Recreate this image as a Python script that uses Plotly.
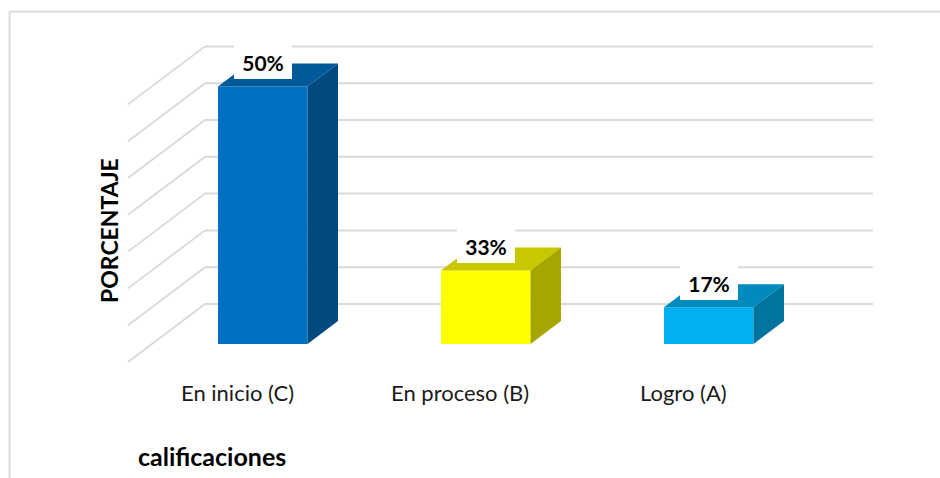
import plotly.graph_objects as go

# Data
categories = ["En inicio (C)", "En proceso (B)", "Logro (A)"]
heights = [7, 2, 1]              # bar heights in gridline units
labels = ["50%", "33%", "17%"]   # printed data labels
grid_levels = [0, 1, 2, 3, 4, 5, 6, 7]
front_colors = ["#0070C0", "#FFFF00", "#00B0F0"]
top_colors = ["#005A9A", "#C8C800", "#008ABD"]
side_colors = ["#004A80", "#A6A600", "#00739F"]

W, H = 940, 478
PX_X = 223.0    # pixels per category
PX_Y = 36.8     # pixels per value unit
X0_PX, Y0_PX = 262.75, 344.0
xr = [-X0_PX / PX_X, (W - X0_PX) / PX_X]
yr = [(Y0_PX - H) / PX_Y, Y0_PX / PX_Y]

def dx(p): return p / PX_X
def dy(p): return p / PX_Y

BAR_W = dx(89.5)
DX, DY = dx(30.5), dy(23)
positions = list(range(len(categories)))
GRID = "#D9D9D9"

fig = go.Figure()

# walls: back-wall gridlines and diagonal side-wall lines
shapes = []
wall_x = dx(205 - X0_PX)
wall_end = dx(873 - X0_PX)
front_x = dx(128 - X0_PX)
back_lift = dy(40)
front_drop = dy(18)
for g in grid_levels:
    yb = g + back_lift
    shapes.append(dict(type="line", layer="below", xref="x", yref="y",
                       x0=wall_x, x1=wall_end, y0=yb, y1=yb,
                       line=dict(color=GRID, width=2)))
    shapes.append(dict(type="line", layer="below", xref="x", yref="y",
                       x0=front_x, x1=wall_x, y0=g - front_drop, y1=yb,
                       line=dict(color=GRID, width=1.75)))
# outer chart frame
fx, fy = 9.5 / W, 1 - 11.5 / H
shapes.append(dict(type="line", layer="below", xref="paper", yref="paper",
                   x0=fx, x1=1, y0=fy, y1=fy, line=dict(color=GRID, width=1.75)))
shapes.append(dict(type="line", layer="below", xref="paper", yref="paper",
                   x0=fx, x1=fx, y0=0, y1=fy, line=dict(color=GRID, width=1.75)))

# front faces
fig.add_trace(go.Bar(x=positions, y=heights, width=BAR_W,
                     marker=dict(color=front_colors, line=dict(width=0)),
                     hoverinfo="skip", showlegend=False))

# top and side faces, derived from the bar values
for p, h, tc, sc in zip(positions, heights, top_colors, side_colors):
    l, r = p - BAR_W / 2, p + BAR_W / 2
    fig.add_trace(go.Scatter(x=[l, r, r + DX, l + DX, l], y=[h, h, h + DY, h + DY, h],
                             mode="lines", fill="toself", fillcolor=tc,
                             line=dict(width=0, color=tc), hoverinfo="skip", showlegend=False))
    fig.add_trace(go.Scatter(x=[r, r + DX, r + DX, r, r], y=[0, DY, h + DY, h, 0],
                             mode="lines", fill="toself", fillcolor=sc,
                             line=dict(width=0, color=sc), hoverinfo="skip", showlegend=False))

FONT = "Lato, Carlito, Calibri, sans-serif"
annotations = []
for p, h, t in zip(positions, heights, labels):
    annotations.append(dict(x=p, y=h + dy(24.5), xref="x", yref="y", text=f"<b>{t}</b>",
                            xanchor="center", yanchor="middle",
                            showarrow=False, bgcolor="#FFFFFF", width=58, height=34,
                            borderpad=0, borderwidth=0,
                            font=dict(family=FONT, size=21, color="#000000")))
for p, c in zip(positions, categories):
    annotations.append(dict(x=p + dx(-25.5), y=dy(-48), xref="x", yref="y", text=c,
                            xanchor="center", yanchor="middle", showarrow=False,
                            font=dict(family=FONT, size=22, color="#1a1a1a")))
annotations.append(dict(x=109 / W, y=1 - 231 / H, xref="paper", yref="paper",
                        xanchor="center", yanchor="middle",
                        text="<b>PORCENTAJE</b>", textangle=-90, showarrow=False,
                        font=dict(family=FONT, size=23, color="#000000")))
annotations.append(dict(x=212 / W, y=1 - 456 / H, xref="paper", yref="paper",
                        xanchor="center", yanchor="middle",
                        text="<b>calificaciones</b>", showarrow=False,
                        font=dict(family=FONT, size=25, color="#000000")))

fig.update_layout(width=W, height=H, margin=dict(l=0, r=0, t=0, b=0),
                  paper_bgcolor="#FFFFFF", plot_bgcolor="#FFFFFF",
                  xaxis=dict(range=xr, visible=False, fixedrange=True),
                  yaxis=dict(range=yr, visible=False, fixedrange=True),
                  shapes=shapes, annotations=annotations, showlegend=False)

fig.write_html("out.html", config=dict(displayModeBar=False),
               post_script="document.body.style.margin='0';")
